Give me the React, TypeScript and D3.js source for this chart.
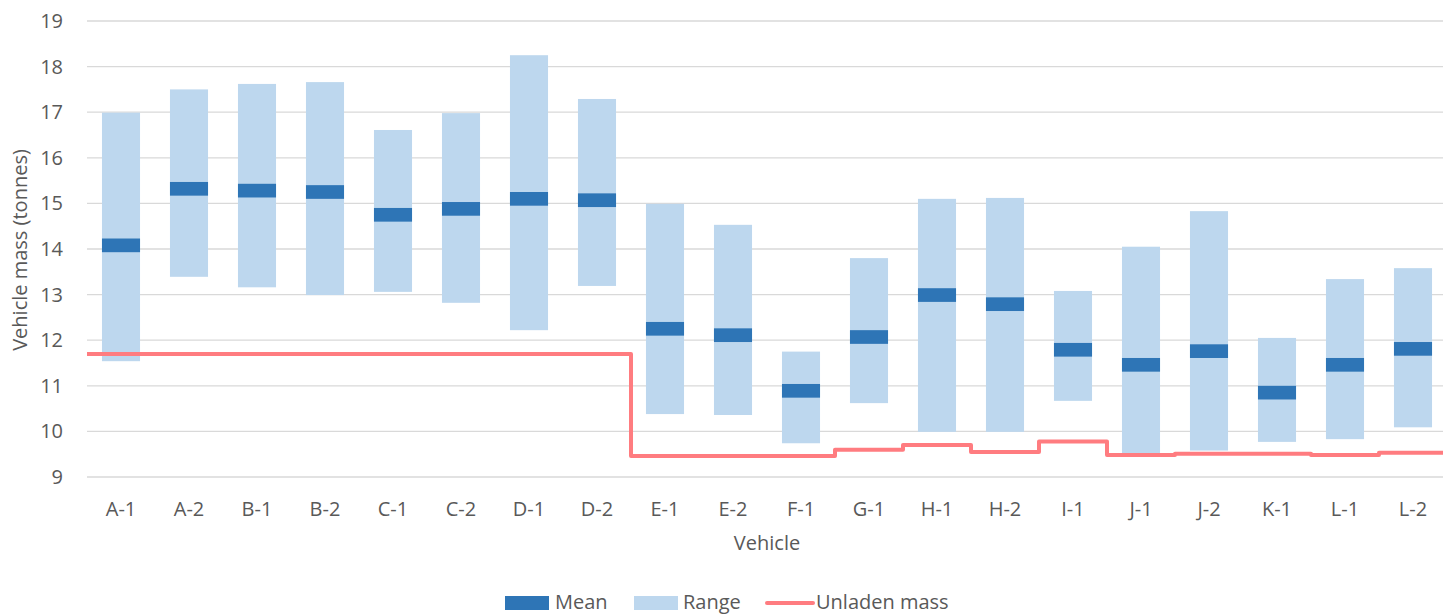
import React from "react";
import * as d3 from "d3";

// Vehicles and their measured mass statistics (tonnes)
const vehicles = ["A-1", "A-2", "B-1", "B-2", "C-1", "C-2", "D-1", "D-2", "E-1", "E-2",
  "F-1", "G-1", "H-1", "H-2", "I-1", "J-1", "J-2", "K-1", "L-1", "L-2"];
const minMass = [11.54, 13.39, 13.16, 12.99, 13.06, 12.82, 12.22, 13.19, 10.38, 10.36,
  9.74, 10.62, 9.99, 9.99, 10.67, 9.5, 9.58, 9.77, 9.83, 10.09];
const maxMass = [16.99, 17.5, 17.62, 17.66, 16.61, 16.98, 18.25, 17.29, 14.99, 14.53,
  11.75, 13.8, 15.1, 15.12, 13.08, 14.05, 14.83, 12.05, 13.34, 13.58];
const meanMass = [14.08, 15.32, 15.28, 15.25, 14.75, 14.88, 15.1, 15.07, 12.25, 12.11,
  10.89, 12.07, 12.99, 12.79, 11.79, 11.46, 11.76, 10.85, 11.46, 11.81];
const unladenMass = [11.7, 11.7, 11.7, 11.7, 11.7, 11.7, 11.7, 11.7, 9.46, 9.46,
  9.46, 9.6, 9.7, 9.55, 9.78, 9.48, 9.51, 9.51, 9.48, 9.53];
const yTicks = [9, 10, 11, 12, 13, 14, 15, 16, 17, 18, 19];
const legendItems = ["Mean", "Range", "Unladen mass"];

const MEAN_HALF = 0.15; // half-thickness of the mean marker, in tonnes

const W = 1443;
const H = 615;
const FONT = "'Open Sans', 'Liberation Sans', sans-serif";
const FS = 20;
const TEXT = "#595959";
const DARK = "#2E75B6";
const LIGHT = "#BDD7EE";
const RED = "#FF7C80";

export default function App() {
  const x = d3.scaleBand<string>().domain(vehicles).range([87, 1447])
    .paddingInner(0.44).paddingOuter(0.22);
  const y = d3.scaleLinear().domain([9, 19]).range([477, 21]);
  const step = x.step();
  const bw = x.bandwidth();
  const gap = (step - bw) / 2;

  // step line across each vehicle's full category slot
  const pts: [number, number][] = vehicles.map((v, i) => [x(v)! - gap, y(unladenMass[i])]);
  pts.push([x(vehicles[vehicles.length - 1])! - gap + step, y(unladenMass[unladenMass.length - 1])]);
  const linePath = d3.line().curve(d3.curveStepAfter)(pts) || "";

  const legendX = [505, 634, 767];
  const legendTextX = [555, 683, 816];

  return (
    <svg width={W} height={H} style={{ position: "absolute", left: 0, top: 0 }}
      fontFamily={FONT}>
      <rect width={W} height={H} fill="#fff" />
      {yTicks.map((t) => (
        <g key={t}>
          <line x1={87} x2={1447} y1={y(t)} y2={y(t)} stroke="#D9D9D9" strokeWidth={1.3} />
          <text x={63} y={y(t) + 7} textAnchor="end" fontSize={FS} fill={TEXT}>{t}</text>
        </g>
      ))}
      {vehicles.map((v, i) => (
        <g key={v}>
          <rect x={x(v)} width={bw} y={y(maxMass[i])} height={y(minMass[i]) - y(maxMass[i])} fill={LIGHT} />
          <rect x={x(v)} width={bw} y={y(meanMass[i] + MEAN_HALF)}
            height={y(meanMass[i] - MEAN_HALF) - y(meanMass[i] + MEAN_HALF)} fill={DARK} />
          <text x={x(v)! + bw / 2} y={516} textAnchor="middle" fontSize={FS} fill={TEXT}>{v}</text>
        </g>
      ))}
      <path d={linePath} fill="none" stroke={RED} strokeWidth={4} strokeLinejoin="round" />
      <text x={767} y={550} textAnchor="middle" fontSize={FS} fill={TEXT}>Vehicle</text>
      <text transform="translate(27,250) rotate(-90)" textAnchor="middle" fontSize={FS} fill={TEXT}>
        Vehicle mass (tonnes)
      </text>
      {legendItems.map((l, i) => (
        <g key={l}>
          {i < 2 ? (
            <rect x={legendX[i]} y={596} width={44} height={14} fill={i === 0 ? DARK : LIGHT} />
          ) : (
            <line x1={legendX[i]} x2={legendX[i] + 46} y1={603} y2={603} stroke={RED} strokeWidth={4} strokeLinecap="round" />
          )}
          <text x={legendTextX[i]} y={609} fontSize={FS} fill={TEXT}>{l}</text>
        </g>
      ))}
    </svg>
  );
}
